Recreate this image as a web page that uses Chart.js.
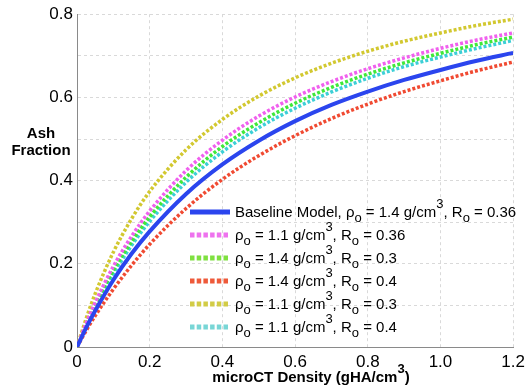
<!DOCTYPE html>
<html>
<head>
<meta charset="utf-8">
<script src="https://cdn.jsdelivr.net/npm/chart.js@4"></script>
<style>
  body { margin: 0; background: #fff; }
</style>
</head>
<body>
<canvas id="chart" width="530" height="390"></canvas>
<script>
    // microCT density values (gHA/cm3) where the curves were read
    var density = [0, 0.025, 0.05, 0.1, 0.15, 0.2, 0.3, 0.4, 0.5, 0.6, 0.7, 0.8, 0.9, 1.0, 1.1, 1.2];

    // ash fraction for each curve
    var baseline   = [0, 0.046, 0.087, 0.161, 0.224, 0.278, 0.368, 0.439, 0.496, 0.543, 0.582, 0.614, 0.642, 0.666, 0.688, 0.707];
    var rho11R036  = [0, 0.057, 0.107, 0.194, 0.266, 0.327, 0.424, 0.497, 0.555, 0.601, 0.638, 0.669, 0.695, 0.718, 0.738, 0.755];
    var rho14R03   = [0, 0.053, 0.101, 0.184, 0.253, 0.313, 0.408, 0.482, 0.539, 0.586, 0.624, 0.656, 0.683, 0.706, 0.727, 0.745];
    var rho14R04   = [0, 0.039, 0.075, 0.139, 0.196, 0.247, 0.333, 0.403, 0.460, 0.508, 0.549, 0.584, 0.614, 0.640, 0.664, 0.685];
    var rho11R03   = [0, 0.068, 0.128, 0.228, 0.308, 0.374, 0.474, 0.547, 0.603, 0.647, 0.682, 0.711, 0.735, 0.755, 0.773, 0.788];
    var rho11R04   = [0, 0.050, 0.096, 0.176, 0.244, 0.302, 0.396, 0.469, 0.527, 0.574, 0.613, 0.646, 0.674, 0.697, 0.718, 0.737];

    // legend pieces
    var namePrefix = ['Baseline Model, ', '', '', '', '', ''];
    var rhoText = ['1.4', '1.1', '1.4', '1.4', '1.1', '1.1'];
    var rText = ['0.36', '0.36', '0.3', '0.4', '0.3', '0.4'];

    var xTicks = [0, 0.2, 0.4, 0.6, 0.8, 1.0, 1.2];
    var yTicks = [0, 0.2, 0.4, 0.6, 0.8];

    var series = [baseline, rho11R036, rho14R03, rho14R04, rho11R03, rho11R04];
    var lineColors = ['#2b45ee', '#f060ee', '#3fe83a', '#f04a32', '#d2c830', '#3ccfd6'];
    var keyColors  = ['#2b45ee', '#ee72ee', '#7fe040', '#ee5a3a', '#d2cc46', '#78d6d6'];

    var FONT = '"Liberation Sans", Arial, Helvetica, sans-serif';

    function pts(arr) {
        return density.map(function (d, i) { return { x: d, y: arr[i] }; });
    }

    var datasets = series.map(function (arr, i) {
        return {
            label: namePrefix[i] + 'ρo = ' + rhoText[i] + ' g/cm3, Ro = ' + rText[i],
            data: pts(arr),
            borderColor: lineColors[i],
            borderWidth: i === 0 ? 4 : 3.5,
            borderDash: i === 0 ? [] : [3, 2],
            borderCapStyle: 'butt',
            pointRadius: 0,
            fill: false,
            cubicInterpolationMode: 'monotone'
        };
    });

    // draw text with sub/superscripts, parts: [text, shift, weight] shift 0 normal, 1 sub, -1 sup
    function richText(ctx, parts, x, y, size, small) {
        parts.forEach(function (p) {
            var sz = p[1] === 0 ? size : small;
            ctx.font = (p[2] || '') + sz + 'px ' + FONT;
            var dy = p[1] === 1 ? 5 : (p[1] === -1 ? -9 : 0);
            ctx.fillText(p[0], x, y + dy);
            x += ctx.measureText(p[0]).width;
        });
        return x;
    }

    var extras = {
        id: 'extras',
        afterDraw: function (chart) {
            var ctx = chart.ctx;
            ctx.save();
            ctx.fillStyle = '#000';
            ctx.textBaseline = 'alphabetic';

            // y title, horizontal, two lines
            ctx.font = 'bold 15px ' + FONT;
            ctx.textAlign = 'center';
            ctx.fillText('Ash', 41, 138);
            ctx.fillText('Fraction', 41, 155);

            // x title with superscript
            ctx.textAlign = 'left';
            var xParts = [['microCT Density (gHA/cm', 0, 'bold '], ['3', -1, 'bold '], [')', 0, 'bold ']];
            var w = 0;
            xParts.forEach(function (p) {
                ctx.font = 'bold ' + (p[1] === 0 ? 15 : 13) + 'px ' + FONT;
                w += ctx.measureText(p[0]).width;
            });
            richText(ctx, xParts, 311 - w / 2, 382, 15, 13);

            // legend
            for (var i = 0; i < series.length; i++) {
                var by = 217 + i * 23;
                ctx.beginPath();
                ctx.strokeStyle = keyColors[i];
                ctx.lineWidth = 5;
                ctx.setLineDash(i === 0 ? [] : [4.5, 2.2]);
                ctx.moveTo(190, by - 5);
                ctx.lineTo(230, by - 5);
                ctx.stroke();
                ctx.setLineDash([]);
                richText(ctx, [
                    [namePrefix[i] + 'ρ', 0], ['o', 1], [' = ' + rhoText[i] + ' g/cm', 0],
                    ['3', -1], [', R', 0], ['o', 1], [' = ' + rText[i], 0]
                ], 235, by, 15, 13);
            }
            ctx.restore();
        }
    };

    function fmt(v) {
        return v === 0 ? '0' : v.toFixed(1);
    }

    new Chart(document.getElementById('chart'), {
        type: 'line',
        data: { datasets: datasets },
        options: {
            responsive: false,
            animation: false,
            events: [],
            layout: { padding: { top: 14, right: 13, left: 0, bottom: 0 } },
            plugins: {
                legend: { display: false },
                tooltip: { enabled: false }
            },
            scales: {
                x: {
                    type: 'linear',
                    min: 0,
                    max: 1.2,
                    afterBuildTicks: function (s) {
                        s.ticks = xTicks.map(function (v) { return { value: v }; });
                    },
                    afterFit: function (s) { s.height = 43; },
                    ticks: {
                        color: '#000',
                        padding: 5,
                        maxRotation: 0,
                        font: { family: FONT, size: 17 },
                        callback: function (v) { return fmt(v); }
                    },
                    grid: { color: '#d9d9d9', drawTicks: false, lineWidth: 1 },
                    border: { display: true, color: '#8a8a8a', width: 1, dash: [3, 3] }
                },
                y: {
                    type: 'linear',
                    min: 0,
                    max: 0.8,
                    afterBuildTicks: function (s) {
                        var t = [];
                        for (var k = 0; k <= 8; k++) t.push({ value: k / 10 });
                        s.ticks = t;
                    },
                    afterFit: function (s) { s.width = 77; },
                    ticks: {
                        color: '#000',
                        padding: 4,
                        font: { family: FONT, size: 17 },
                        callback: function (v) {
                            var hit = yTicks.filter(function (t) { return Math.abs(t - v) < 1e-6; });
                            return hit.length ? fmt(hit[0]) : '';
                        }
                    },
                    grid: { color: '#d9d9d9', drawTicks: false, lineWidth: 1 },
                    border: { display: true, color: '#8a8a8a', width: 1, dash: [3, 3] }
                }
            }
        },
        plugins: [extras]
    });
</script>
</body>
</html>
